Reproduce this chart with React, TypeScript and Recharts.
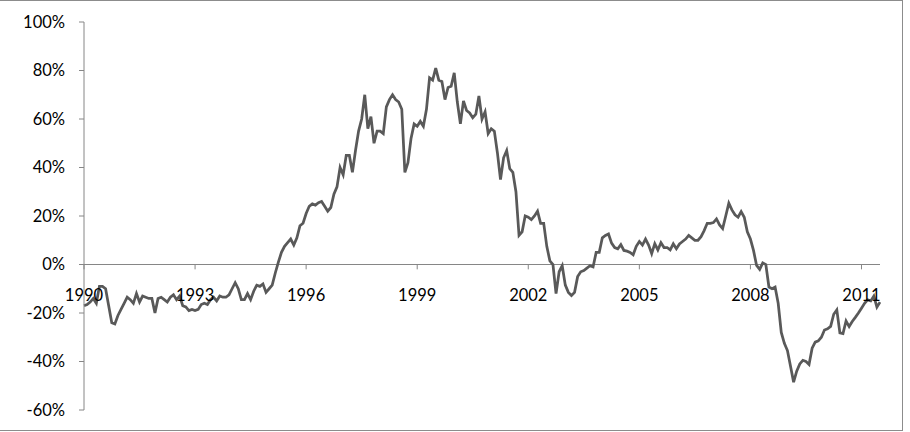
import { LineChart, Line, XAxis, YAxis, ReferenceLine, ReferenceDot } from "recharts";

// monthly values (%), Jan 1990 onwards
const values = [
  -17, -16.5, -15.5, -14, -16, -9, -9, -10, -17, -24, -24.5, -21,
  -18.5, -16, -13.5, -14.5, -16, -12, -15.5, -13, -13.5, -14, -14, -20,
  -14, -13.5, -14.5, -15.5, -13.5, -12.5, -14.5, -13, -17, -17.5, -19, -18.5,
  -19, -18.5, -16.5, -16, -16.5, -14.5, -13.5, -15, -13, -13.5, -13.5, -12.5,
  -10, -7.5, -10, -14.5, -14.5, -12, -14.5, -11, -8.5, -9, -8, -11.5,
  -10, -8.5, -3.5, 1, 5, 7.5, 9, 10.5, 8, 11, 16, 17,
  21, 24, 25, 24.5, 25.5, 26, 24, 22, 23.5, 29, 32, 40,
  37, 45, 45, 38, 47, 55, 60, 70, 56, 61, 50, 55,
  55, 54, 65, 68, 70, 68, 67, 64, 38, 42, 52, 58,
  57, 59, 57, 64, 77, 76, 81, 76, 75.5, 68, 73, 73.5,
  79, 67, 58, 67.5, 63.5, 62.5, 60.5, 62, 69.5, 60, 63, 54,
  56, 55, 46, 35, 44, 47, 39.5, 38, 30, 12, 13.5, 20,
  19.5, 18.5, 20, 22, 17, 17, 7.5, 1.5, 0, -12, -3, -0.5,
  -8.5, -11.5, -12.8, -11.5, -5, -3, -2.5, -1.5, -0.5, -1, 5, 5,
  11, 12, 12.6, 8.8, 7, 6.5, 8.2, 5.8, 5.5, 5, 4, 7.5,
  9.5, 8, 10.5, 8, 4.5, 8.6, 6, 9, 7, 7, 6, 8.5,
  6.5, 8.5, 9.5, 10.5, 12, 11, 10, 10, 11.5, 14, 17, 17,
  17.3, 18.8, 16.3, 14.8, 20, 25.3, 22.5, 20.5, 19.5, 21.8, 19.5, 13.5,
  10.5, 5.8, -0.4, -2, 0.7, 0, -9.3, -10, -9.3, -16, -28, -32.5,
  -35.5, -42, -48.5, -44, -41, -39.5, -40, -41.2, -34.5, -32, -31.5, -30,
  -27, -26.5, -25.5, -20.5, -18.7, -28.2, -28.5, -23.3, -25.6, -23.5, -21.8, -20,
  -18, -16, -14.6, -15, -13, -17.6, -15.5,
];

const startYear = 1990;
const yearLabels = [1990, 1993, 1996, 1999, 2002, 2005, 2008, 2011];
const yTicks = [-60, -40, -20, 0, 20, 40, 60, 80, 100];

const data = values.map((v, i) => ({ i, v }));

const axisColor = "#868686";
const font = "Lato, 'Open Sans', sans-serif";

export default function App() {
  return (
    <div style={{ position: "absolute", left: 0, top: 0, width: 910, height: 432, background: "#fff" }}>
      <div
        style={{
          position: "absolute",
          left: 0,
          top: 0,
          width: 902,
          height: 429,
          borderTop: "1px solid #8c8c8c",
          borderRight: "1px solid #8c8c8c",
          borderBottom: "1px solid #8c8c8c",
        }}
      />
      <LineChart
        width={910}
        height={432}
        data={data}
        margin={{ top: 22, right: 30, left: 0, bottom: 22 }}
        style={{ position: "absolute", left: 0, top: 0 }}
      >
        <XAxis dataKey="i" type="number" domain={[0, values.length - 1]} hide />
        <YAxis
          type="number"
          domain={[-60, 100]}
          ticks={yTicks}
          width={84}
          tickFormatter={(v) => `${v}%`}
          tick={{ fill: "#000", fontSize: 16.5, fontFamily: font }}
          axisLine={{ stroke: axisColor }}
          tickLine={{ stroke: axisColor }}
          tickSize={5}
          tickMargin={14}
          interval={0}
        />
        <ReferenceLine y={0} stroke={axisColor} strokeWidth={1} />
        {yearLabels.map((yr) => {
          const idx = (yr - startYear) * 12;
          return (
            <ReferenceLine
              key={"t" + yr}
              segment={[{ x: idx, y: 0 }, { x: idx, y: -2 }]}
              stroke={axisColor}
            />
          );
        })}
        {yearLabels.map((yr) => (
          <ReferenceDot
            key={"l" + yr}
            x={(yr - startYear) * 12}
            y={0}
            r={0}
            fill="none"
            stroke="none"
            label={{
              value: String(yr),
              position: "bottom",
              offset: 25,
              fill: "#000",
              fontSize: 16.5,
              fontFamily: font,
            }}
          />
        ))}
        <Line
          type="linear"
          dataKey="v"
          stroke="#595959"
          strokeWidth={2.75}
          dot={false}
          activeDot={false}
          isAnimationActive={false}
        />
      </LineChart>
    </div>
  );
}
